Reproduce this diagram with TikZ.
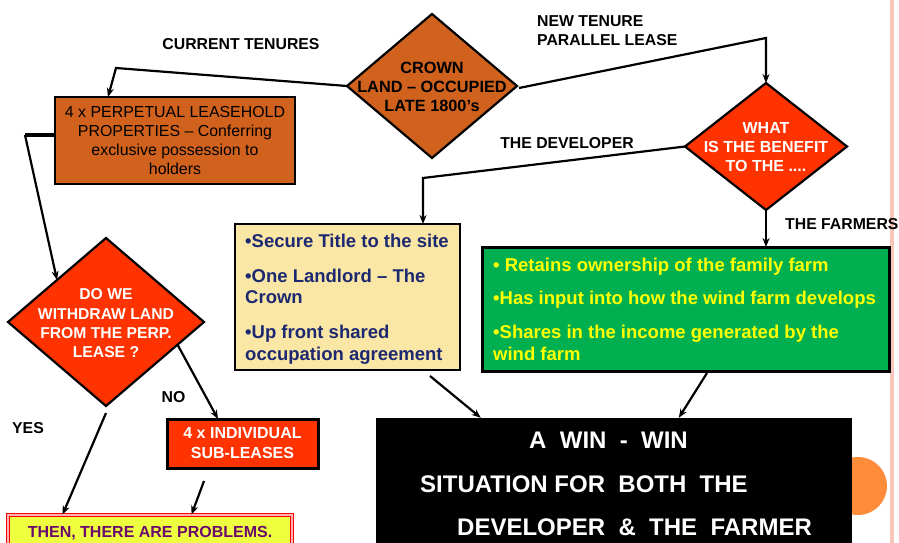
\documentclass[tikz,border=0pt]{standalone}
\usepackage{fontspec}
\setmainfont{Liberation Sans}
\usetikzlibrary{shapes.geometric,arrows.meta,calc}
\definecolor{cbrown}{HTML}{D0621E}
\definecolor{cred}{HTML}{FF3300}
\definecolor{cwheat}{HTML}{FAE7A5}
\definecolor{cnavy}{HTML}{1C2870}
\definecolor{cgreen}{HTML}{00B050}
\definecolor{cyel}{HTML}{FFFF00}
\definecolor{clime}{HTML}{EEFF40}
\definecolor{cpurple}{HTML}{6B0A6B}
\definecolor{cpink}{HTML}{F8C6B8}
\definecolor{ccircle}{HTML}{FF8C3A}
\tikzset{
  conn/.style={line width=2.2pt, draw=black, -{Stealth[length=9pt,width=7pt]}},
  plainline/.style={line width=2.2pt, draw=black},
  dia/.style={diamond, draw=black, line width=2.2pt, inner sep=0pt, outer sep=0pt},
  boxnode/.style={rectangle, draw=black, line width=2.5pt, inner sep=0pt, outer sep=0pt},
  lbl/.style={font=\fontsize{15.8}{19}\selectfont\bfseries, inner sep=0pt, text=black},
  diatext/.style={font=\fontsize{16}{19.3}\selectfont\bfseries, inner sep=0pt, align=center},
  bigtext/.style={font=\fontsize{18.5}{22}\selectfont\bfseries, inner sep=0pt, align=left, anchor=base west},
  wintext/.style={font=\fontsize{24}{28}\selectfont\bfseries, inner sep=0pt, text=white, anchor=base west},
}
\begin{document}
\begin{tikzpicture}[x=1pt,y=-1pt]
\useasboundingbox (0,0) rectangle (899,543);
\fill[white] (0,0) rectangle (899,543);
% right edge decoration
\draw[cpink, line width=3.5pt] (892,0) -- (892,543);
\fill[ccircle] (858,486) circle (29);

% main shapes
\node[dia, fill=cbrown, minimum width=170pt, minimum height=144pt] (crown) at (432,86) {};
\node[diatext, text=black, font=\fontsize{16.3}{19.3}\selectfont\bfseries] (crowntext) at (432,87) {CROWN\\LAND -- OCCUPIED\\LATE 1800's};

\node[boxnode, fill=cbrown, minimum width=240pt, minimum height=87pt, align=center,
      font=\fontsize{15.9}{18.8}\selectfont] (perp) at (175,140.5)
      {4 x PERPETUAL LEASEHOLD\\PROPERTIES -- Conferring\\exclusive possession to\\holders};

\node[dia, fill=cred, minimum width=162pt, minimum height=127pt] (what) at (766,146.5) {};
\node[diatext, text=white] (whattext) at (766,147) {WHAT\\IS THE BENEFIT\\TO THE ....};

\node[dia, fill=cred, minimum width=196pt, minimum height=168pt] (dowe) at (106,322) {};
\node[diatext, text=white, font=\fontsize{15.7}{19.3}\selectfont\bfseries] (dowetext) at (106,323.5) {DO WE\\WITHDRAW LAND\\FROM THE PERP.\\LEASE ?};

\node[boxnode, fill=cwheat, minimum width=225pt, minimum height=146pt] (ybox) at (347.5,297) {};
\node[bigtext, text=cnavy] (ytext) at (245,360.6)
  {\textbullet Secure Title to the site\\[13pt]\textbullet One Landlord -- The\\[-1pt]Crown\\[13pt]\textbullet Up front shared\\occupation agreement};

\node[boxnode, line width=3pt, fill=cgreen, minimum width=407pt, minimum height=124pt] (gbox) at (685.5,309) {};
\node[bigtext, text=cyel] (gtext) at (493,360.6)
  {\textbullet{} Retains ownership of the family farm\\[11pt]\textbullet Has input into how the wind farm develops\\[12pt]\textbullet Shares in the income generated by the\\wind farm};

\node[boxnode, line width=3pt, fill=cred, minimum width=151pt, minimum height=49pt, align=center,
      text=white, font=\fontsize{16}{20}\selectfont\bfseries] (indiv) at (242.5,443.5)
      {4 x INDIVIDUAL\\SUB-LEASES};

\node[rectangle, draw=red, line width=0.9pt, double=red!30!white, double distance=1.4pt,
      fill=clime, minimum width=284pt, minimum height=50pt, inner sep=0pt] (prob) at (150,540) {};
\node[font=\fontsize{16}{19}\selectfont\bfseries, text=cpurple, inner sep=0pt, anchor=base] (probtext) at (150,537.7) {THEN, THERE ARE PROBLEMS.};

\node[rectangle, fill=black, minimum width=476pt, minimum height=142pt, inner sep=0pt] (win) at (614,489) {};
\node[wintext] (win1) at (529,448.6) {A~~WIN~~-~~WIN};
\node[wintext] (win2) at (420,492.6) {SITUATION FOR~~BOTH~~THE};
\node[wintext] (win3) at (457,535.6) {DEVELOPER~~\&~~THE~~FARMER};

% labels
\node[lbl] (lcurrent) at (241,44) {CURRENT TENURES};
\node[lbl, align=left, anchor=north west] (lnew) at (537,15) {NEW TENURE\\PARALLEL LEASE};
\node[lbl] (ldev) at (567,143) {THE DEVELOPER};
\node[lbl, anchor=west] (lfarm) at (785,224) {THE FARMERS};
\node[lbl] (lno) at (173.5,397) {NO};
\node[lbl] (lyes) at (28,428) {YES};

% bend points
\coordinate (c1) at (116,68);
\coordinate (c2) at (766,38);
\coordinate (c3) at (423,178);
\coordinate (c4) at (25,135);

% connectors
\draw[conn] (crown.west) -- (c1) -- ([xshift=53pt]perp.north west);
\draw[conn] ([xshift=2pt,yshift=-2pt]crown.east) -- (c2) -- (what.north);
\draw[conn] (what.west) -- (c3) -- ([xshift=188pt]ybox.north west);
\draw[conn] (what.south) -- (what.south |- gbox.north);
\draw[plainline, line width=3.5pt] ([yshift=5.5pt]perp.west) -- (c4);
\draw[conn] (c4) -- (dowe.north west);
\draw[conn] ($(dowe.east)!0.27!(dowe.south)$) -- ([xshift=51pt]indiv.north west);
\draw[conn] ([yshift=-7pt]dowe.south) -- ([xshift=55pt]prob.north west);
\draw[conn] ([xshift=37pt,yshift=-13pt]indiv.south west) -- ([xshift=184pt]prob.north west);
\draw[conn] ([xshift=-30pt,yshift=-6pt]ybox.south east) -- ([xshift=105pt]win.north west);
\draw[conn] ([xshift=225pt,yshift=-2pt]gbox.south west) -- ([xshift=303pt]win.north west);
\end{tikzpicture}
\end{document}
